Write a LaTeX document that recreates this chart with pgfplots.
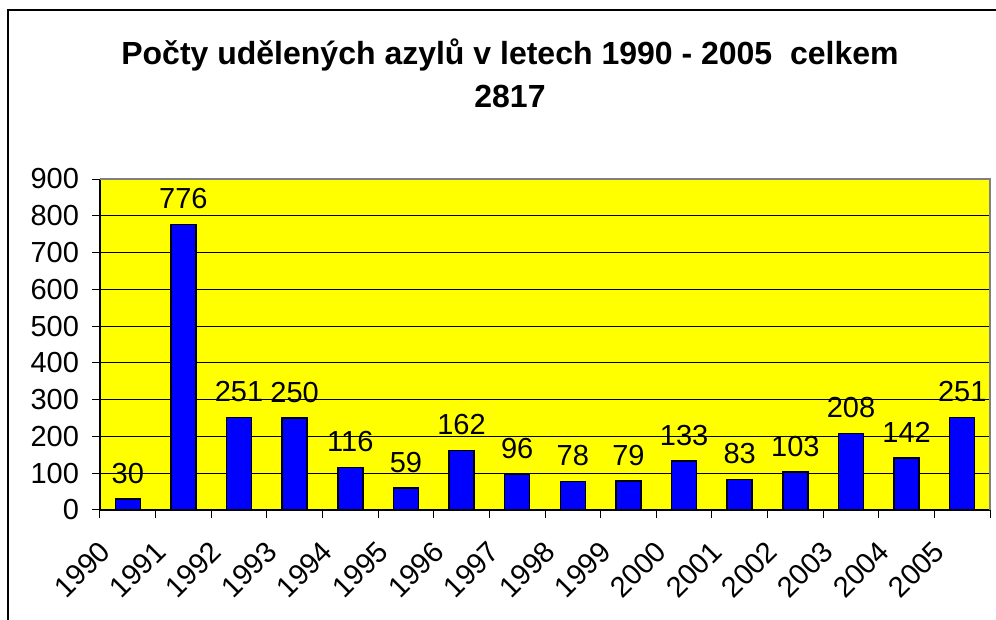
\documentclass[border=0pt]{standalone}
\usepackage{fontspec}
\setmainfont{Liberation Sans}
\usepackage{pgfplots}
\pgfplotsset{compat=1.18}
\definecolor{barblue}{RGB}{0,0,255}
\definecolor{bgyellow}{RGB}{255,255,0}
\begin{document}
\begin{tikzpicture}
\begin{axis}[
  at={(0pt,0pt)}, anchor=south west,
  scale only axis,
  width=445pt, height=165.5pt,
  ybar, bar width=12.5pt,
  xmin=-0.5, xmax=15.5,
  ymin=0, ymax=900,
  ytick={0,100,...,900},
  xtick={0,...,15},
  xticklabels={1990,1991,1992,1993,1994,1995,1996,1997,1998,1999,2000,2001,2002,2003,2004,2005},
  minor xtick={-0.5,0.5,...,15.5},
  major x tick style={draw=none},
  tick align=outside,
  major tick length=4pt, minor tick length=4pt,
  tick style={black, line width=0.5pt},
  axis x line*=bottom, axis y line*=left,
  axis line style={black, line width=0.6pt},
  ymajorgrids,
  grid style={black, line width=0.5pt},
  axis background/.style={fill=bgyellow},
  /pgf/number format/assume math mode=true,
  ticklabel style={font=\fontsize{14.5}{17}\selectfont},
  yticklabel style={xshift=-3pt},
  xticklabel style={xshift=-9pt, yshift=-11.8pt, rotate=45, anchor=east},
  nodes near coords,
  nodes near coords style={font=\fontsize{14.5}{17}\selectfont, yshift=4pt, black},
  clip=false,
]
\addplot[fill=barblue, draw=black, line width=0.8pt] coordinates {
(0,30) (1,776) (2,251) (3,250) (4,116) (5,59) (6,162) (7,96)
(8,78) (9,79) (10,133) (11,83) (12,103) (13,208) (14,142) (15,251)};
\draw[gray, line width=0.8pt] (rel axis cs:0,1) -- (rel axis cs:1,1) -- (rel axis cs:1,0);
\end{axis}
\node[align=center, font=\fontsize{16}{21.5}\selectfont\bfseries] at (205pt,218.25pt)
  {Počty udělených azylů v letech 1990 - 2005 \ celkem\\2817};
\draw[black, line width=0.8pt] (-46pt,-60pt) -- (-46pt,250pt) -- (460pt,250pt);
\pgfresetboundingbox
\path[use as bounding box] (-50pt,-55pt) rectangle (448pt,255pt);
\end{tikzpicture}
\end{document}
